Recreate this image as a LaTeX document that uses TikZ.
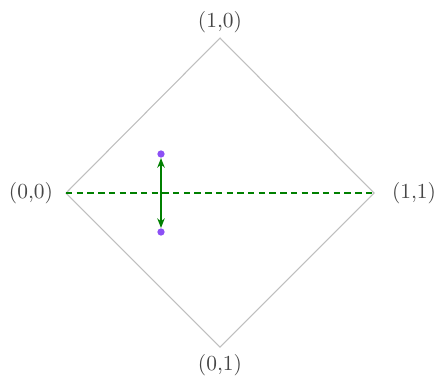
\documentclass[tikz,border=0pt]{standalone}
\usetikzlibrary{arrows.meta}
\definecolor{dotpurple}{RGB}{140,80,245}
\definecolor{lblgray}{RGB}{70,70,70}
\begin{document}
\begin{tikzpicture}[x=0.467pt,y=-0.467pt,
  edge/.style={draw=black!25, line width=0.5pt},
  lbl/.style={text=lblgray, font=\fontsize{10}{12}\selectfont, inner sep=0pt},
  pt/.style={circle, fill=dotpurple, inner sep=0pt, minimum size=3.4pt},
  dline/.style={draw=green!50!black, line width=0.6pt, dash pattern=on 3pt off 2pt},
  arr/.style={draw=green!50!black, line width=0.6pt, {Stealth[length=4.5pt,width=3.5pt]}-{Stealth[length=4.5pt,width=3.5pt]}, shorten >=0pt, shorten <=0pt}
]
\useasboundingbox (0,0) rectangle (439,382);
\coordinate (T) at (220,38);
\coordinate (L) at (66,193);
\coordinate (R) at (374,193);
\coordinate (B) at (220,347);
\draw[edge] (T) -- (R) -- (B) -- (L) -- cycle;
\draw[dline] (L) -- (R);
\node[lbl] (lT) at (220,22) {(1,0)};
\node[lbl] (lL) at (31,193) {(0,0)};
\node[lbl] (lR) at (414,193) {(1,1)};
\node[lbl] (lB) at (220,365) {(0,1)};
\node[pt] (p1) at (161,154) {};
\node[pt] (p2) at (161,232) {};
\draw[arr] (p1) -- (p2);
\end{tikzpicture}
\end{document}
